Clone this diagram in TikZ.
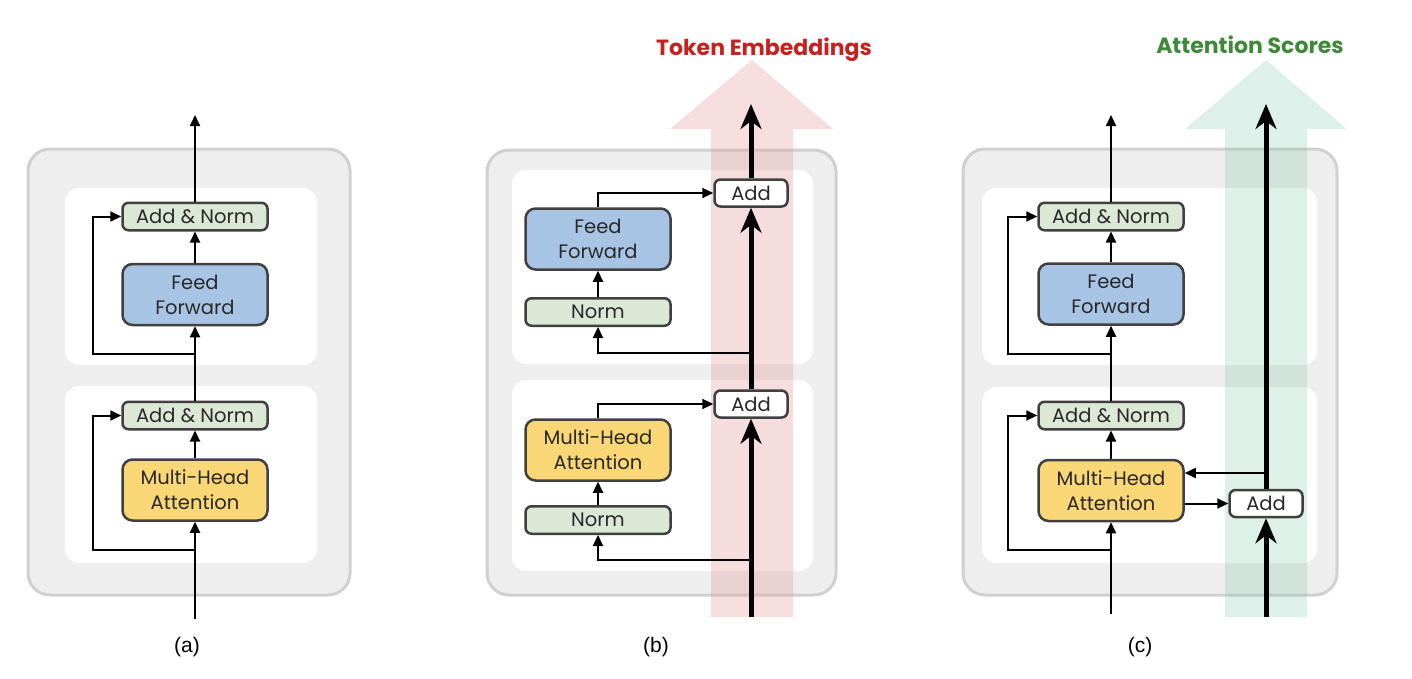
\documentclass[tikz,border=0pt]{standalone}
\usepackage{fontspec}
\setmainfont{Liberation Sans}
\newfontfamily\boxfont{Poppins}
\newfontfamily\headfont{Poppins}
\usetikzlibrary{arrows.meta}
\definecolor{outergray}{RGB}{238,238,238}
\definecolor{outerline}{RGB}{208,208,208}
\definecolor{boxline}{RGB}{64,64,64}
\definecolor{normgreen}{RGB}{220,232,214}
\definecolor{ffblue}{RGB}{168,196,228}
\definecolor{mhayellow}{RGB}{249,215,118}
\definecolor{textgray}{RGB}{40,40,40}
\definecolor{pinkarrow}{RGB}{232,160,160}
\definecolor{greenarrow}{RGB}{120,200,170}
\definecolor{headred}{RGB}{197,34,31}
\definecolor{headgreen}{RGB}{61,139,55}
\tikzset{
  outerbox/.style={fill=outergray, draw=outerline, line width=3pt, rounded corners=22pt},
  innerbox/.style={fill=white, rounded corners=14pt},
  blk/.style={draw=boxline, line width=2.5pt, rounded corners=6pt,
    font=\boxfont\fontsize{19.5}{25}\selectfont, inner sep=0pt, align=center, text=textgray},
  normbox/.style={blk, fill=normgreen, minimum width=145pt, minimum height=27.5pt},
  bigbox/.style={blk, minimum width=145pt, minimum height=61pt, rounded corners=10pt},
  addbox/.style={blk, fill=white, minimum width=73pt, minimum height=27pt},
  arr/.style={line width=2pt, -{Triangle[length=11pt,width=10pt]}},
  bigarr/.style={line width=5pt, -{Stealth[length=25pt,width=21pt,inset=8pt]}},
  caption/.style={font=\fontsize{21}{24}\selectfont},
  heading/.style={font=\headfont\bfseries\fontsize{22}{26}\selectfont, anchor=base}
}
\begin{document}
\begin{tikzpicture}[x=1pt,y=-1pt]
\useasboundingbox (0,0) rectangle (1412,678);

% ---------- backgrounds ----------
\draw[outerbox] (28,149) rectangle (350,595);
\fill[innerbox] (65,188) rectangle (317,365);
\fill[innerbox] (65,386) rectangle (317,563);

\draw[outerbox] (487,150) rectangle (836,595);
\fill[innerbox] (512,170) rectangle (813,364);
\fill[innerbox] (512,380) rectangle (813,571);

\draw[outerbox] (963,149) rectangle (1337,595);
\fill[innerbox] (982,188) rectangle (1317,365);
\fill[innerbox] (982,387) rectangle (1317,563);

% ---------- wide translucent arrows ----------
\fill[pinkarrow, opacity=0.35] (711,617) -- (711,129) -- (670,129) -- (752,60) -- (833,129) -- (793,129) -- (793,617) -- cycle;
\fill[greenarrow, opacity=0.25] (1225,617) -- (1225,129) -- (1185,129) -- (1266,60) -- (1347,129) -- (1307,129) -- (1307,617) -- cycle;

\node[heading, text=headred] (tokhead) at (764,55) {Token Embeddings};
\node[heading, text=headgreen] (atthead) at (1250,53) {Attention Scores};

% ---------- panel (a) ----------
\node[normbox] (a-an2) at (195,216.5) {Add \& Norm};
\node[bigbox, fill=ffblue] (a-ff) at (195,294.5) {Feed\\Forward};
\node[normbox] (a-an1) at (195,415.5) {Add \& Norm};
\node[bigbox, fill=mhayellow] (a-mha) at (195,490) {Multi-Head\\Attention};
\coordinate (a-in) at (195,619);
\coordinate (a-out) at (195,115);
\coordinate (a-s1) at (195,550);
\coordinate (a-s2) at (195,354);
\draw[arr] (a-in) -- (a-mha);
\draw[arr] (a-mha) -- (a-an1);
\draw[arr] (a-an1) -- (a-ff);
\draw[arr] (a-ff) -- (a-an2);
\draw[arr] (a-an2) -- (a-out);
\draw[arr] (a-s1) -- ++(-102,0) |- (a-an1.west);
\draw[arr] (a-s2) -- ++(-102,0) |- (a-an2.west);
\node[caption] (a-cap) at (187,647) {(a)};

% ---------- panel (b) ----------
\node[addbox] (b-add2) at (751,193) {Add};
\node[bigbox, fill=ffblue] (b-ff) at (598,239) {Feed\\Forward};
\node[normbox] (b-norm2) at (598,312) {Norm};
\node[addbox] (b-add1) at (751,404) {Add};
\node[bigbox, fill=mhayellow] (b-mha) at (598,450) {Multi-Head\\Attention};
\node[normbox] (b-norm1) at (598,520) {Norm};
\coordinate (b-in) at (751,617);
\coordinate (b-out) at (751,104);
\coordinate (b-s1) at (751,560);
\coordinate (b-s2) at (751,353);
\draw[arr] (b-s1) -| (b-norm1.south);
\draw[arr] (b-norm1) -- (b-mha);
\draw[arr] (b-mha.north) |- (b-add1.west);
\draw[arr] (b-s2) -| (b-norm2.south);
\draw[arr] (b-norm2) -- (b-ff);
\draw[arr] (b-ff.north) |- (b-add2.west);
\draw[bigarr] (b-in) -- (b-add1.south);
\draw[bigarr] (b-add1.north) -- (b-add2.south);
\draw[bigarr] (b-add2.north) -- (b-out);
\node[caption] (b-cap) at (656,647) {(b)};

% ---------- panel (c) ----------
\node[normbox] (c-an2) at (1111,216.5) {Add \& Norm};
\node[bigbox, fill=ffblue] (c-ff) at (1111,294) {Feed\\Forward};
\node[normbox] (c-an1) at (1111,415.5) {Add \& Norm};
\node[bigbox, fill=mhayellow] (c-mha) at (1111,490.5) {Multi-Head\\Attention};
\node[addbox] (c-add) at (1266,503.5) {Add};
\coordinate (c-in) at (1111,614);
\coordinate (c-out) at (1111,115);
\coordinate (c-s1) at (1111,550);
\coordinate (c-s2) at (1111,354);
\coordinate (c-tin) at (1266,617);
\coordinate (c-tout) at (1266,104);
\coordinate (c-br) at (1266,473);
\draw[arr] (c-in) -- (c-mha);
\draw[arr] (c-mha) -- (c-an1);
\draw[arr] (c-an1) -- (c-ff);
\draw[arr] (c-ff) -- (c-an2);
\draw[arr] (c-an2) -- (c-out);
\draw[arr] (c-s1) -- ++(-103,0) |- (c-an1.west);
\draw[arr] (c-s2) -- ++(-103,0) |- (c-an2.west);
\draw[arr] (c-br) -- ([yshift=17.5pt]c-mha.east);
\draw[arr] ([yshift=-13pt]c-mha.east) -- (c-add.west);
\draw[bigarr] (c-tin) -- (c-add.south);
\draw[bigarr] (c-add.north) -- (c-tout);
\node[caption] (c-cap) at (1140,647) {(c)};
\end{tikzpicture}
\end{document}
